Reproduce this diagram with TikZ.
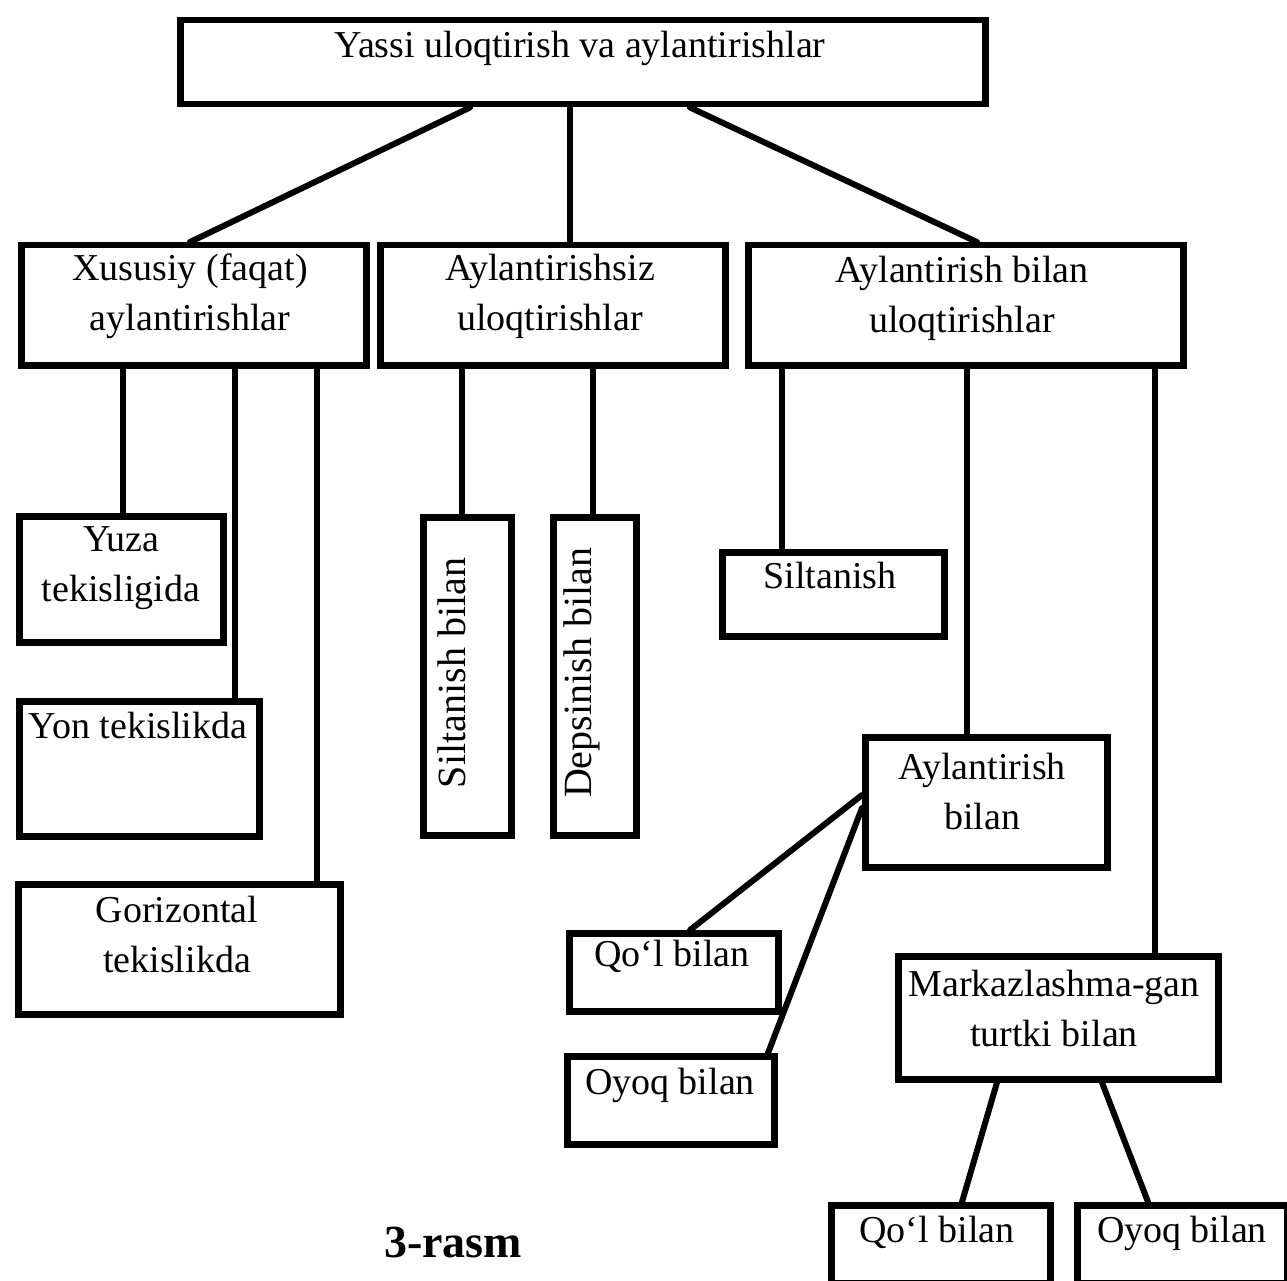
\documentclass[tikz,border=0pt]{standalone}
\usepackage{fontspec}
\setmainfont{Liberation Serif}
\usetikzlibrary{calc}
\tikzset{
  box/.style={draw, line width=6.5pt, inner sep=0pt, anchor=north west},
  lbl/.style={inner sep=0pt, align=center, font=\fontsize{38}{50}\selectfont},
  vlbl/.style={inner sep=0pt, rotate=90, font=\fontsize{40}{50}\selectfont},
  conn/.style={line width=6pt, line cap=round},
  caption/.style={inner sep=0pt, font=\fontsize{46}{50}\selectfont\bfseries}
}
\begin{document}
\begin{tikzpicture}[x=1pt, y=-1pt]
\useasboundingbox (0,0) rectangle (1287,1281);
\clip (0,0) rectangle (1287,1281);
% boxes
\node[box, minimum width=805pt, minimum height=84pt]  (top)  at (177,17)   {};
\node[box, minimum width=345pt, minimum height=120pt] (A)    at (18,242)   {};
\node[box, minimum width=345pt, minimum height=120pt] (B)    at (377,242)  {};
\node[box, minimum width=435pt, minimum height=120pt] (C)    at (745,242)  {};
\node[box, minimum width=204pt, minimum height=126pt] (yuza) at (16,513)   {};
\node[box, minimum width=240pt, minimum height=135pt] (yon)  at (16,698)   {};
\node[box, minimum width=322pt, minimum height=130pt] (gor)  at (15,881)   {};
\node[box, minimum width=88pt,  minimum height=318pt] (silb) at (420,514)  {};
\node[box, minimum width=83pt,  minimum height=318pt] (dep)  at (550,514)  {};
\node[box, minimum width=222pt, minimum height=84pt]  (silt) at (719,549)  {};
\node[box, minimum width=242pt, minimum height=130pt] (aylb) at (862,734)  {};
\node[box, minimum width=209pt, minimum height=78pt]  (qol)  at (566,930)  {};
\node[box, minimum width=207pt, minimum height=88pt]  (oyl)  at (564,1053) {};
\node[box, minimum width=320pt, minimum height=123pt] (mark) at (895,953)  {};
\node[box, minimum width=219pt, minimum height=78pt]  (qor)  at (828,1202) {};
\node[box, minimum width=210pt, minimum height=78pt]  (oyr)  at (1074,1202){};
% texts
\node[lbl, anchor=base] (ttop) at (580,58) {Yassi uloqtirish va aylantirishlar};
\node[lbl] (tA) at (190,296) {Xususiy (faqat)\\aylantirishlar};
\node[lbl] (tB) at (550,296) {Aylantirishsiz\\uloqtirishlar};
\node[lbl] (tC) at (962,298) {Aylantirish bilan\\uloqtirishlar};
\node[lbl] (tyuza) at (121,568) {Yuza\\tekisligida};
\node[lbl, anchor=base] (tyon) at (138,738) {Yon tekislikda};
\node[lbl] (tgor) at (177,934) {Gorizontal\\tekislikda};
\node[vlbl] (tsilb) at (452,673) {Siltanish bilan};
\node[vlbl] (tdep) at (582,673) {Depsinish bilan};
\node[lbl, anchor=base] (tsilt) at (830,588) {Siltanish};
\node[lbl] (taylb) at (982,791) {Aylantirish\\bilan};
\node[lbl, anchor=base] (tqol) at (672,966) {Qo‘l bilan};
\node[lbl, anchor=base] (toyl) at (670,1094) {Oyoq bilan};
\node[lbl] (tmark) at (1054,1008) {Markazlashma-gan\\turtki bilan};
\node[lbl, anchor=base] (tqor) at (937,1242) {Qo‘l bilan};
\node[lbl, anchor=base] (toyr) at (1182,1242) {Oyoq bilan};
\node[caption, anchor=base] (cap) at (453,1257) {3-rasm};
% connectors
\draw[conn] ($(top.south west)+(293,0)$) -- ($(A.north west)+(172,0)$);
\draw[conn] ($(top.south west)+(393,0)$) -- ($(B.north west)+(193,0)$);
\draw[conn] ($(top.south west)+(513,0)$) -- ($(C.north west)+(232,0)$);
\draw[conn] ($(A.south west)+(105,0)$) -- ($(yuza.north west)+(107,0)$);
\draw[conn] ($(A.south west)+(217,0)$) -- ($(yon.north west)+(219,0)$);
\draw[conn] ($(A.south west)+(299,0)$) -- ($(gor.north west)+(302,0)$);
\draw[conn] ($(B.south west)+(85,0)$) -- ($(silb.north west)+(42,0)$);
\draw[conn] ($(B.south west)+(216,0)$) -- ($(dep.north west)+(43,0)$);
\draw[conn] ($(C.south west)+(37,0)$) -- ($(silt.north west)+(63,0)$);
\draw[conn] ($(C.south west)+(222,0)$) -- ($(aylb.north west)+(105,0)$);
\draw[conn] ($(C.south west)+(410,0)$) -- ($(mark.north west)+(260,0)$);
\draw[conn] ($(aylb.north west)+(0,61)$) -- ($(qol.north west)+(124,0)$);
\draw[conn] ($(aylb.north west)+(0,74)$) -- ($(oyl.north west)+(204,0)$);
\draw[conn] ($(mark.south west)+(102,0)$) -- ($(qor.north west)+(134,0)$);
\draw[conn] ($(mark.south west)+(207,0)$) -- ($(oyr.north west)+(74,0)$);
\end{tikzpicture}
\end{document}
